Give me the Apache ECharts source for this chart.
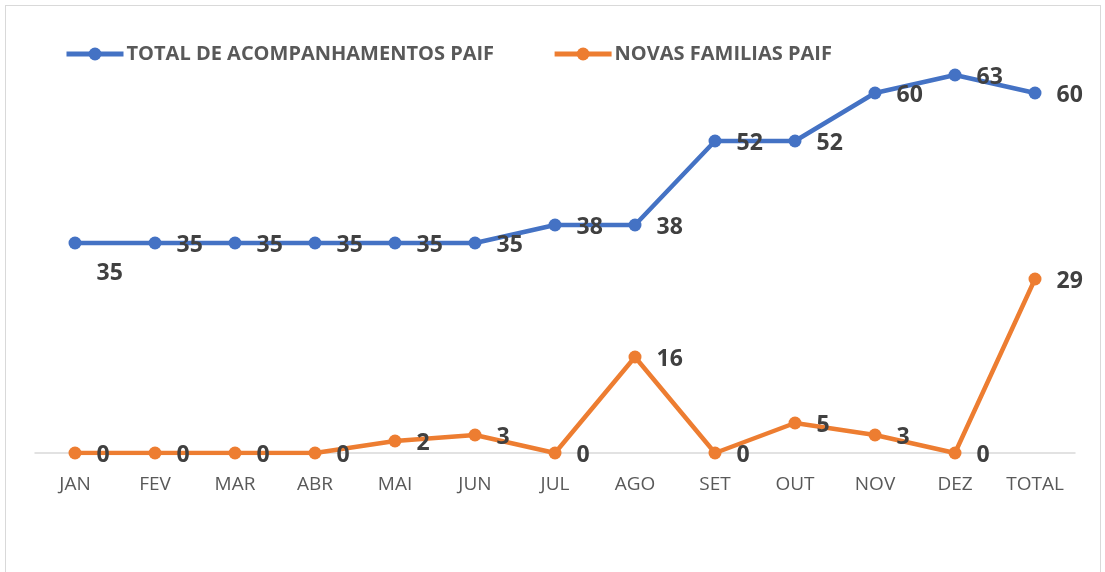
<!DOCTYPE html>
<html>
<head>
<meta charset="utf-8">
<script src="https://cdn.jsdelivr.net/npm/echarts@6/dist/echarts.min.js"></script>
<style>
  html, body { margin: 0; padding: 0; background: #fff; }
  #frame { position: absolute; left: 5px; top: 5px; width: 1096px; height: 600px; border: 1px solid #d9d9d9; box-sizing: border-box; }
  #chart { position: absolute; left: 0; top: 0; width: 1105px; height: 572px; }
</style>
</head>
<body>
<div id="frame"></div>
<div id="chart"></div>
<script>
const categories = ['JAN', 'FEV', 'MAR', 'ABR', 'MAI', 'JUN', 'JUL', 'AGO', 'SET', 'OUT', 'NOV', 'DEZ', 'TOTAL']
const acompanhamentos = [35, 35, 35, 35, 35, 35, 38, 38, 52, 52, 60, 63, 60]
const novasFamilias = [0, 0, 0, 0, 2, 3, 0, 16, 0, 5, 3, 0, 29]

const labelStyle = {
  show: true,
  position: 'right',
  distance: 15,
  offset: [0, 2],
  color: '#404040',
  fontFamily: 'Open Sans',
  fontWeight: 'bold',
  fontSize: 23
}

const chart = echarts.init(document.getElementById('chart'))

// primeiro ponto azul tem o rótulo abaixo
const blueData = acompanhamentos.map((v, i) => {
  if (i === 0) {
    return { value: v, label: { offset: [0, 30] } }
  }
  return v
})

chart.setOption({
  animation: false,
  color: ['#4472C4', '#ED7D31'],
  legend: {
    left: 64,
    top: 44,
    padding: 0,
    itemWidth: 57,
    itemHeight: 16,
    itemGap: 58,
    lineStyle: { width: 5 },
    textStyle: {
      color: '#595959',
      fontFamily: 'Open Sans',
      fontWeight: 'bold',
      fontSize: 20,
      padding: [0, 0, 0, -2]
    },
    data: ['TOTAL DE ACOMPANHAMENTOS PAIF', 'NOVAS FAMILIAS PAIF']
  },
  grid: {
    left: 35,
    right: 30,
    top: 33,
    bottom: 119
  },
  xAxis: {
    type: 'category',
    data: categories,
    boundaryGap: true,
    axisLine: { lineStyle: { color: '#d9d9d9', width: 1.5 } },
    axisTick: { show: false },
    axisLabel: {
      color: '#595959',
      fontFamily: 'Open Sans',
      fontSize: 19,
      margin: 22
    }
  },
  yAxis: {
    type: 'value',
    min: 0,
    max: 70,
    show: false,
    splitLine: { show: false }
  },
  series: [
    {
      name: 'TOTAL DE ACOMPANHAMENTOS PAIF',
      type: 'line',
      data: blueData,
      symbol: 'circle',
      symbolSize: 13,
      lineStyle: { width: 4.5 },
      label: labelStyle
    },
    {
      name: 'NOVAS FAMILIAS PAIF',
      type: 'line',
      data: novasFamilias,
      symbol: 'circle',
      symbolSize: 13,
      lineStyle: { width: 4.5 },
      label: labelStyle
    }
  ]
})
</script>
</body>
</html>
